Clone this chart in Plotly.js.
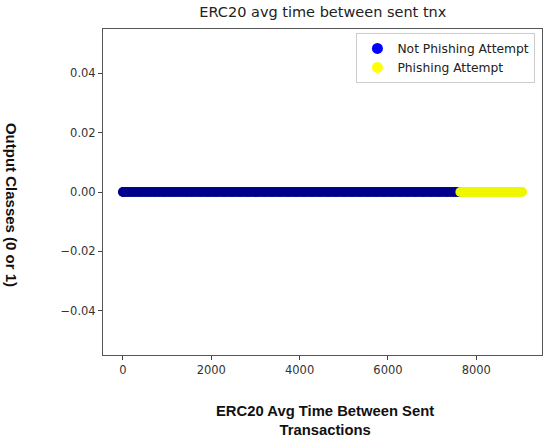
<!DOCTYPE html>
<html>
<head>
<meta charset="utf-8">
<script src="https://cdn.plot.ly/plotly-3.0.1.min.js"></script>
<style>
  body { margin: 0; background: #fff; }
  #chart { width: 550px; height: 443px; }
</style>
</head>
<body>
<div id="chart"></div>
<script>
// avg time between sent ERC20 transactions, class 0 = not phishing
const notPhishingX = [0, 12, 40, 95, 150, 210, 265, 330, 390, 445, 510, 570, 630, 690,
    745, 810, 870, 930, 985, 1050, 1110, 1170, 1225, 1290, 1350, 1410, 1465, 1530,
    1590, 1650, 1715, 1770, 1830, 1895, 1950, 2010, 2075, 2130, 2190, 2255, 2310,
    2370, 2435, 2490, 2550, 2615, 2670, 2730, 2795, 2850, 2910, 2975, 3030, 3090,
    3155, 3210, 3270, 3335, 3390, 3450, 3515, 3570, 3630, 3695, 3750, 3810, 3875,
    3930, 3990, 4055, 4110, 4170, 4235, 4290, 4350, 4415, 4470, 4530, 4595, 4650,
    4710, 4775, 4830, 4890, 4955, 5010, 5070, 5135, 5190, 5250, 5315, 5370, 5430,
    5495, 5550, 5610, 5675, 5730, 5790, 5855, 5910, 5970, 6035, 6090, 6150, 6215,
    6270, 6330, 6395, 6450, 6510, 6575, 6630, 6690, 6755, 6810, 6870, 6935, 6990,
    7050, 7115, 7170, 7230, 7295, 7350, 7410, 7475, 7530, 7590, 7625];
const notPhishingY = notPhishingX.map(() => 0);

// class 1 = phishing attempt
const phishingX = [7640, 7700, 7765, 7820, 7885, 7940, 8010, 8065, 8130, 8190, 8250,
    8315, 8370, 8440, 8495, 8560, 8620, 8680, 8745, 8800, 8870, 8925, 8990, 9036];
const phishingY = phishingX.map(() => 0);

const legendNames = ['Not Phishing Attempt', 'Phishing Attempt'];

const data = [
    {
        x: notPhishingX, y: notPhishingY, type: 'scatter', mode: 'markers',
        marker: {color: '#00008b', size: 10},
        showlegend: false
    },
    {
        x: phishingX, y: phishingY, type: 'scatter', mode: 'markers',
        marker: {color: '#eef700', size: 10},
        showlegend: false
    },
    // legend entries only
    {
        x: [null], y: [null], type: 'scatter', mode: 'markers', name: legendNames[0],
        marker: {color: '#0000ff', size: 11}
    },
    {
        x: [null], y: [null], type: 'scatter', mode: 'markers', name: legendNames[1],
        marker: {color: '#ffff00', size: 11}
    }
];

const tickFont = {family: 'DejaVu Sans', size: 11.5, color: '#333'};

const layout = {
    width: 550,
    height: 443,
    margin: {l: 103, r: 8, t: 29, b: 88},
    paper_bgcolor: '#fff',
    plot_bgcolor: '#fff',
    title: {
        text: 'ERC20 avg time between sent tnx',
        font: {family: 'DejaVu Sans', size: 14.5, color: '#222'},
        x: 0.587, xanchor: 'center', y: 0.972, yanchor: 'middle'
    },
    xaxis: {
        range: [-452, 9488],
        tickvals: [0, 2000, 4000, 6000, 8000],
        ticks: 'outside', ticklen: 4, tickcolor: '#444',
        showgrid: false, zeroline: false,
        showline: true, mirror: true, linecolor: '#555', linewidth: 1,
        tickfont: tickFont
    },
    yaxis: {
        range: [-0.055, 0.055],
        tickvals: [-0.04, -0.02, 0, 0.02, 0.04],
        tickformat: '.2f',
        ticks: 'outside', ticklen: 4, tickcolor: '#444',
        showgrid: false, zeroline: false,
        showline: true, mirror: true, linecolor: '#555', linewidth: 1,
        tickfont: tickFont
    },
    legend: {
        x: 0.985, xanchor: 'right', y: 0.988, yanchor: 'top',
        bgcolor: 'rgba(255,255,255,0.9)', bordercolor: '#ccc', borderwidth: 1,
        font: {family: 'DejaVu Sans', size: 12.3, color: '#222'},
        tracegroupgap: 0
    },
    annotations: [
        {
            text: '<b>Output Classes (0 or 1)</b>',
            xref: 'paper', yref: 'paper', x: -0.207, y: 0.46,
            xanchor: 'center', yanchor: 'middle', textangle: 90, showarrow: false,
            font: {family: 'Liberation Sans', size: 15, color: '#111'}
        },
        {
            text: '<b>ERC20 Avg Time Between Sent<br>Transactions</b>',
            xref: 'paper', yref: 'paper', x: 0.505, y: -0.14,
            xanchor: 'center', yanchor: 'top', showarrow: false,
            font: {family: 'Liberation Sans', size: 14.8, color: '#111'}
        }
    ]
};

Plotly.newPlot('chart', data, layout, {displayModeBar: false, staticPlot: true});
</script>
</body>
</html>
